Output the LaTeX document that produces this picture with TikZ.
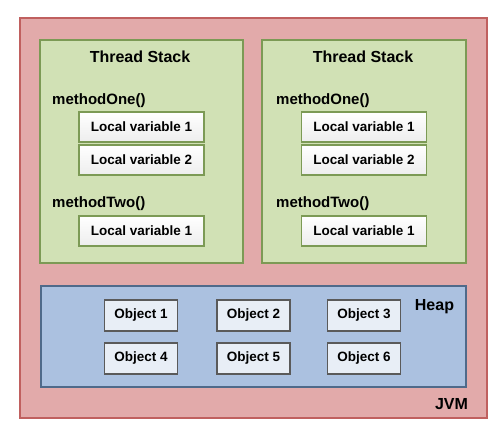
\documentclass[tikz,border=0pt]{standalone}
\usepackage{fontspec}
\setmainfont{Liberation Sans}
\definecolor{jvmfill}{HTML}{E2AAAA}
\definecolor{jvmline}{HTML}{C0605F}
\definecolor{stackfill}{HTML}{D1E1B5}
\definecolor{stackline}{HTML}{7C9A55}
\definecolor{heapfill}{HTML}{ABC1E0}
\definecolor{heapline}{HTML}{4F6A8A}
\definecolor{objfill}{HTML}{E8EEF6}
\definecolor{objline}{HTML}{5A5A5A}
\begin{document}
\begin{tikzpicture}[x=1pt,y=-1pt,
    area/.style={rectangle,draw,line width=1.6pt,inner sep=0pt},
    varbox/.style={rectangle,draw=stackline,line width=1.6pt,top color=white,bottom color=black!7,
        minimum width=125pt,minimum height=30pt,inner sep=0pt,font=\bfseries\fontsize{13.5}{15}\selectfont},
    objbox/.style={rectangle,draw=objline,fill=objfill,line width=1.6pt,
        minimum width=73pt,minimum height=31pt,inner sep=0pt,font=\bfseries\fontsize{13.5}{15}\selectfont},
    title/.style={font=\bfseries\fontsize{16}{18}\selectfont},
    method/.style={anchor=west,inner sep=0pt,font=\bfseries\fontsize{15}{17}\selectfont}]
            \useasboundingbox (0,0) rectangle (504,438);
            % Areas
            \node[area,draw=jvmline,fill=jvmfill,minimum width=467pt,minimum height=400pt] (jvm) at (253.5,218){};
            \node[area,draw=stackline,fill=stackfill,minimum width=203pt,minimum height=223pt] (stackL) at (141.5,151.5){};
            \node[area,draw=stackline,fill=stackfill,minimum width=204pt,minimum height=223pt] (stackR) at (364,151.5){};
            \node[area,draw=heapline,fill=heapfill,minimum width=425pt,minimum height=101pt] (heap) at (253.5,336.5){};
            % Left thread stack
            \node[title] (titleL) at (140,57){Thread Stack};
            \node[method] (oneL) at (52,101){methodOne()};
            \node[varbox] (varL1) at (141.5,127){Local variable 1};
            \node[varbox] (varL2) at (141.5,160){Local variable 2};
            \node[method] (twoL) at (52,204){methodTwo()};
            \node[varbox] (varL3) at (141.5,231){Local variable 1};
            % Right thread stack
            \node[title] (titleR) at (363,57){Thread Stack};
            \node[method] (oneR) at (276,101){methodOne()};
            \node[varbox] (varR1) at (364,127){Local variable 1};
            \node[varbox] (varR2) at (364,160){Local variable 2};
            \node[method] (twoR) at (276,204){methodTwo()};
            \node[varbox] (varR3) at (364,231){Local variable 1};
            % Heap
            \node[objbox] (obj1) at (141,315.5){Object 1};
            \node[objbox] (obj2) at (253.5,315.5){Object 2};
            \node[objbox] (obj3) at (364,315.5){Object 3};
            \node[objbox] (obj4) at (141,358.5){Object 4};
            \node[objbox] (obj5) at (253.5,358.5){Object 5};
            \node[objbox] (obj6) at (364,358.5){Object 6};
            \node[title] (heaplabel) at (434.5,307){Heap};
            \node[title] (jvmlabel) at (451.5,404){JVM};
        \end{tikzpicture}
\end{document}
